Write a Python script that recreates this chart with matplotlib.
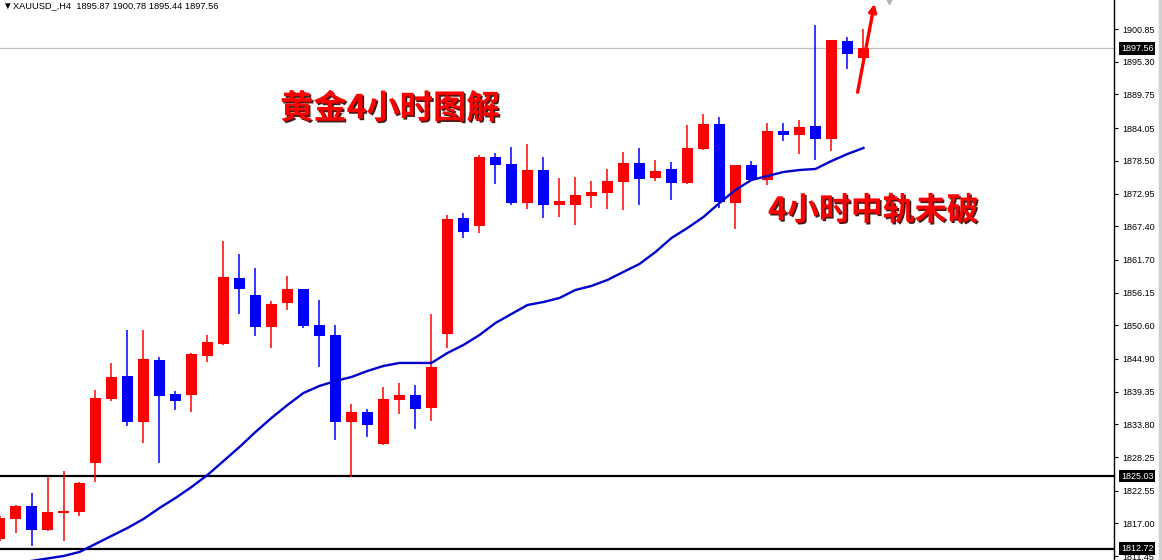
# -*- coding: utf-8 -*-
# XAUUSD H4 candles with 4h middle band
import numpy as np
import matplotlib.pyplot as plt
import matplotlib.patheffects as pe
import matplotlib.transforms as mtransforms

plt.rcParams['font.family'] = ['Liberation Sans', 'DejaVu Sans']

# candle data, first candle is cut at the left edge
opens = [1814.35, 1817.75, 1819.95, 1815.88, 1818.76, 1818.93, 1827.25, 1838.10, 1842.00, 1834.20,
         1844.71, 1838.95, 1838.78, 1845.39, 1847.43, 1858.62, 1855.74, 1850.31, 1854.38, 1856.76,
         1850.65, 1848.95, 1834.20, 1835.89, 1830.47, 1837.93, 1838.78, 1836.57, 1849.12, 1868.80,
         1867.44, 1879.14, 1877.96, 1871.34, 1876.94, 1871.00, 1871.00, 1872.53, 1873.04, 1874.90,
         1878.13, 1875.58, 1877.11, 1874.73, 1880.50, 1884.74, 1871.34, 1877.79, 1875.24, 1883.55,
         1882.87, 1884.40, 1882.20, 1898.82, 1895.87]
highs = [1818.25, 1820.12, 1822.16, 1824.87, 1825.89, 1824.02, 1839.63, 1844.21, 1849.80, 1849.80,
         1845.22, 1839.46, 1845.90, 1848.95, 1864.90, 1862.69, 1860.32, 1854.72, 1858.96, 1856.76,
         1854.89, 1850.65, 1837.25, 1836.40, 1840.14, 1840.81, 1840.47, 1852.52, 1869.31, 1869.65,
         1879.48, 1879.82, 1880.84, 1881.35, 1879.14, 1875.58, 1875.75, 1875.07, 1877.11, 1879.99,
         1880.67, 1878.63, 1878.29, 1884.57, 1886.44, 1885.93, 1877.79, 1878.46, 1884.91, 1884.91,
         1885.42, 1901.53, 1898.99, 1899.49, 1900.78]
lows = [1814.01, 1815.37, 1813.17, 1815.71, 1814.02, 1818.26, 1824.02, 1837.76, 1833.52, 1830.64,
        1827.25, 1836.23, 1835.89, 1844.37, 1847.26, 1852.52, 1848.78, 1846.75, 1853.19, 1850.14,
        1843.53, 1831.15, 1824.87, 1831.65, 1830.30, 1835.55, 1833.01, 1834.37, 1846.75, 1865.40,
        1866.25, 1874.56, 1871.00, 1870.32, 1868.80, 1868.97, 1867.61, 1870.49, 1870.32, 1870.15,
        1871.00, 1875.07, 1871.85, 1874.56, 1880.33, 1870.49, 1866.93, 1875.24, 1874.39, 1881.86,
        1879.65, 1878.63, 1880.16, 1894.07, 1895.44]
closes = [1817.91, 1819.95, 1815.88, 1818.93, 1819.10, 1823.85, 1838.27, 1841.83, 1834.20, 1844.88,
          1838.61, 1837.76, 1845.73, 1847.77, 1858.79, 1856.76, 1850.31, 1854.21, 1856.76, 1850.48,
          1848.78, 1834.20, 1835.89, 1833.69, 1838.10, 1838.78, 1836.40, 1843.53, 1868.63, 1866.42,
          1879.14, 1877.79, 1871.34, 1876.94, 1871.00, 1871.68, 1872.70, 1873.21, 1875.07, 1878.13,
          1875.41, 1876.77, 1874.73, 1880.67, 1884.74, 1871.51, 1877.79, 1875.24, 1883.55, 1882.87,
          1884.23, 1882.20, 1898.99, 1896.61, 1897.56]
# middle band (moving average)
ma = [1809.95, 1810.29, 1810.63, 1811.05, 1811.47, 1812.15, 1813.51, 1814.87, 1816.22, 1817.75,
      1819.61, 1821.31, 1823.17, 1825.21, 1827.58, 1829.96, 1832.50, 1834.88, 1837.08, 1839.12,
      1840.31, 1841.15, 1841.83, 1842.85, 1843.70, 1844.21, 1844.21, 1844.21, 1845.90, 1847.26,
      1848.95, 1850.99, 1852.52, 1854.04, 1854.55, 1855.23, 1856.59, 1857.27, 1858.29, 1859.65,
      1861.00, 1863.03, 1865.40, 1867.10, 1868.97, 1871.34, 1873.55, 1875.24, 1875.92, 1876.60,
      1876.94, 1877.11, 1878.46, 1879.65, 1880.67]

price_ticks = [1900.85, 1895.30, 1889.75, 1884.05, 1878.50, 1872.95, 1867.40, 1861.70, 1856.15,
               1850.60, 1844.90, 1839.35, 1833.80, 1828.25, 1822.55, 1817.00, 1811.45]
bid = 1897.56
levels = [1825.03, 1812.72]
header = 'XAUUSD_,H4  1895.87 1900.78 1895.44 1897.56'

o = np.array(opens); h = np.array(highs); l = np.array(lows); c = np.array(closes)
x = np.arange(-1, len(o) - 1)
up = c >= o
colors = np.where(up, '#FF0000', '#0000FF')

fig = plt.figure(figsize=(11.62, 5.6), dpi=100)
ax = fig.add_axes([0, 0, 1114 / 1162, 1])
ax.set_xlim(-0.969, 68.66)
ax.set_ylim(1810.79, 1905.77)

# bid line
ax.axhline(bid, color='#C0C0C0', lw=0.9, zorder=1)
# support lines
for lv in levels:
    ax.axhline(lv, color='black', lw=1.6, zorder=2)

# candles
ax.vlines(x, l, h, colors=colors, lw=1.1, zorder=3)
body = np.maximum(np.abs(c - o), 0.2)
ax.bar(x, body, bottom=np.minimum(o, c), width=0.69, color=colors, zorder=4)

# middle band
ax.plot(x, ma, color='#0000CC', lw=1.7, zorder=5)

# arrow
ax.annotate('', xy=(53.72, 1905.6), xytext=(52.6, 1889.66),
            arrowprops=dict(arrowstyle='-|>', color='#FF0000', lw=2.4, mutation_scale=11),
            zorder=6)
ax.plot([54.6], [1905.6], marker='v', color='#B0B0B0', ms=4, clip_on=False)

# axis look
for s in ['top', 'left', 'bottom']:
    ax.spines[s].set_visible(False)
ax.spines['right'].set_linewidth(1.0)
ax.set_xticks([])
ax.yaxis.tick_right()
ax.set_yticks(price_ticks)
ax.set_yticklabels(['%.2f' % v for v in price_ticks], fontsize=6.5)
ax.tick_params(axis='y', length=3, width=0.8, pad=3)

trans = mtransforms.blended_transform_factory(ax.transAxes, ax.transData)
for v in [bid] + levels:
    ax.text(1.0063, v, '%.2f' % v, transform=trans, fontsize=6.5, color='white',
            va='center', ha='left', zorder=10,
            bbox=dict(facecolor='black', edgecolor='none', pad=1.2))

# header
fig.text(2 / 1162, 1 - 6 / 560, '▼', fontsize=7, va='center', ha='left')
fig.text(13 / 1162, 1 - 6 / 560, header, fontsize=6.7, va='center', ha='left')

# window border on the right
fig.add_artist(plt.Line2D([1159.5 / 1162] * 2, [0, 1], color='#D0D0D0', lw=2.5))

# notes
shadow = [pe.withSimplePatchShadow(offset=(1.2, -1.2), shadow_rgbFace='#300000', alpha=0.9)]
fig.text(280 / 1162, 1 - 109 / 560, '黄金4小时图解', fontsize=24, color='#FF0000',
         fontweight='bold', family=['Noto Sans CJK SC', 'DejaVu Sans'],
         va='center', ha='left', path_effects=shadow)
fig.text(768 / 1162, 1 - 211 / 560, '4小时中轨未破', fontsize=23, color='#FF0000',
         fontweight='bold', family=['Noto Sans CJK SC', 'DejaVu Sans'],
         va='center', ha='left', path_effects=shadow)

fig.savefig('out.png', dpi=100)
